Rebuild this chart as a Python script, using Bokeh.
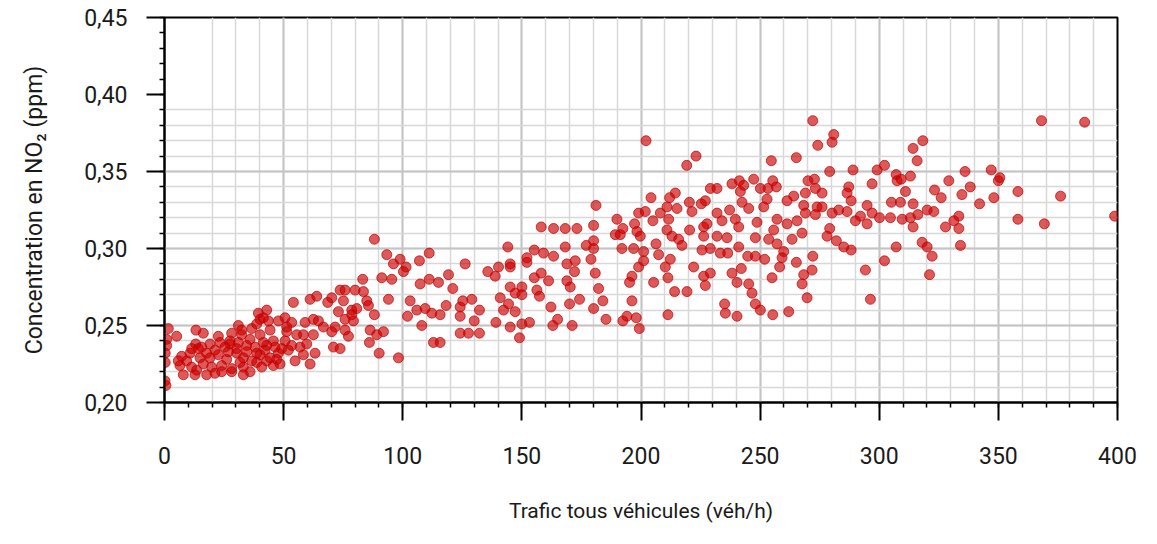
import math
from bokeh.plotting import figure
from bokeh.models import Range1d, SingleIntervalTicker, CustomJSTickFormatter, LinearAxis, FixedTicker
from bokeh.embed import file_html
from bokeh.resources import INLINE

# ---- data: traffic (veh/h) and NO2 concentration (ppm) ----
low_a_x = [54.1, 61.1, 63.9, 68.5, 42.9, 39.4, 40.1, 43.6, 50.6, 47.8, 62.5, 59.0, 64.6, 66.7, 31.0, 36.6, 1.6, 5.1,
           13.2, 16.3, 22.6, 28.2, 32.4, 35.9, 40.1, 44.3, 41.5, 45.7, 51.3, 50.6, 55.5, 58.3, 62.5, 0.9, 0.9]
low_a_y = [0.265, 0.267, 0.269, 0.265, 0.260, 0.258, 0.254, 0.253, 0.255, 0.253, 0.254, 0.252, 0.253, 0.249, 0.250,
           0.248, 0.248, 0.243, 0.247, 0.245, 0.243, 0.245, 0.244, 0.241, 0.244, 0.247, 0.239, 0.240, 0.246, 0.240,
           0.244, 0.244, 0.244, 0.241, 0.237]
low_b_x = [13.1, 15.6, 19.1, 21.2, 25.4, 27.5, 30.3, 34.5, 38.0, 42.2, 46.4, 49.2, 52.0]
low_b_y = [0.238, 0.236, 0.238, 0.234, 0.236, 0.238, 0.235, 0.237, 0.236, 0.234, 0.236, 0.235, 0.234]
low_c_x = [7.2, 10.7, 14.9, 17.7, 22.6, 26.1, 30.3, 33.1, 36.6, 40.1, 44.3, 47.8, 54.8, 58.3, 63.2, 61.1]
low_c_y = [0.230, 0.232, 0.229, 0.232, 0.231, 0.228, 0.232, 0.229, 0.227, 0.231, 0.229, 0.232, 0.227, 0.231, 0.232,
           0.225]
low_d_x = [6.5, 11.4, 16.3, 19.8, 24.0, 28.2, 33.1, 35.9, 31.7, 38.7, 45.7, 42.9, 7.9, 12.8, 17.7, 21.2, 28.2, 0.2,
           0.6, 0.3, 0.3]
low_d_y = [0.224, 0.223, 0.225, 0.223, 0.224, 0.222, 0.223, 0.220, 0.226, 0.226, 0.224, 0.227, 0.218, 0.218, 0.218,
           0.219, 0.220, 0.214, 0.211, 0.226, 0.232]
low_e_x = [14.2, 23.3, 26.8, 31.0, 34.5, 38.7, 42.9, 47.1, 9.3, 13.5, 24.0, 33.1, 40.8, 48.5, 53.4, 56.9, 59.7, 19.1,
           11.4, 5.8, 51.3, 53.4, 38.7, 41.5, 27.5, 32.4]
low_e_y = [0.235, 0.239, 0.233, 0.239, 0.233, 0.232, 0.237, 0.228, 0.227, 0.221, 0.220, 0.218, 0.223, 0.225, 0.237,
           0.236, 0.238, 0.229, 0.235, 0.227, 0.249, 0.252, 0.251, 0.255, 0.240, 0.247]

mid_a_x = [88.1, 93.3, 96.1, 98.9, 101.4, 100.3, 111.1, 107.0, 126.2, 135.7, 119.2, 121.0, 91.2, 95.4, 83.2, 107.3,
           111.1, 115.0, 94.0, 103.1, 118.2, 125.2, 129.0, 124.1, 132.2, 130.0, 124.1, 105.9, 109.4, 112.2, 115.7,
           102.0, 108.0, 124.1, 127.6, 132.2, 112.9, 115.7, 88.1, 86.3, 89.1, 91.9, 86.0, 90.1, 98.2]
mid_a_y = [0.306, 0.296, 0.290, 0.293, 0.288, 0.285, 0.297, 0.292, 0.290, 0.285, 0.283, 0.274, 0.281, 0.280, 0.280,
           0.277, 0.280, 0.278, 0.267, 0.266, 0.263, 0.266, 0.267, 0.262, 0.260, 0.253, 0.256, 0.260, 0.261, 0.258,
           0.257, 0.256, 0.250, 0.245, 0.245, 0.245, 0.239, 0.239, 0.257, 0.247, 0.244, 0.246, 0.239, 0.232, 0.229]
mid_b_x = [73.7, 75.8, 80.0, 83.5, 70.2, 75.1, 84.9, 85.6, 73.0, 78.6, 80.7, 78.6, 75.8, 79.3, 71.6, 75.8, 77.2, 70.2,
           70.9, 73.7]
mid_b_y = [0.273, 0.273, 0.273, 0.272, 0.268, 0.266, 0.266, 0.263, 0.259, 0.260, 0.261, 0.257, 0.254, 0.253, 0.249,
           0.247, 0.243, 0.246, 0.236, 0.235]

c_a_x = [181.1, 189.9, 199.0, 201.8, 197.3, 189.2, 191.3, 192.4, 198.3, 199.7, 158.1, 163.3, 168.2, 173.1, 180.1,
         180.1, 177.0, 180.1, 192.0, 196.9, 201.1, 201.1, 199.0, 144.1, 155.2, 159.1, 163.3, 152.1, 152.1, 168.2,
         179.0, 172.4, 168.9, 172.1, 180.8, 145.1, 145.1, 140.2, 138.8, 158.1, 155.2, 161.2, 168.9, 170.3, 196.2, 195.2]
c_a_y = [0.328, 0.319, 0.323, 0.324, 0.316, 0.309, 0.309, 0.313, 0.311, 0.308, 0.314, 0.313, 0.313, 0.313, 0.315,
         0.305, 0.302, 0.300, 0.300, 0.300, 0.298, 0.292, 0.288, 0.301, 0.299, 0.297, 0.295, 0.294, 0.291, 0.301,
         0.293, 0.292, 0.290, 0.285, 0.284, 0.290, 0.288, 0.288, 0.282, 0.284, 0.281, 0.279, 0.279, 0.275, 0.282, 0.278]
c_b_x = [145.1, 150.0, 147.2, 150.0, 156.3, 157.4, 182.2, 140.9, 144.4, 142.3, 147.2, 162.2, 170.0, 174.2, 184.0,
         180.1, 196.2, 139.1, 145.1, 150.0, 153.2, 163.0, 165.0, 171.1, 185.3, 192.4, 194.1, 198.0, 199.3, 149.0]
c_b_y = [0.275, 0.275, 0.271, 0.270, 0.273, 0.269, 0.274, 0.268, 0.264, 0.260, 0.259, 0.262, 0.264, 0.267, 0.266,
         0.261, 0.266, 0.252, 0.249, 0.251, 0.252, 0.250, 0.254, 0.250, 0.254, 0.253, 0.256, 0.255, 0.248, 0.242]

d_a_x = [202.1, 223.1, 219.2, 254.7, 265.2, 255.3, 253.3, 256.8, 250.1, 247.3, 238.2, 241.3, 243.1, 241.7, 229.1,
         231.9, 270.1, 269.0, 264.1, 261.3, 268.3, 252.9, 251.5, 245.2, 242.4, 237.2, 231.9, 227.0, 225.3, 220.3,
         221.4, 214.4, 212.0, 204.2, 215.1, 210.9, 208.1, 205.0, 211.6, 227.7, 226.3, 234.0, 239.6, 241.0, 248.7,
         248.0, 257.1, 261.3, 265.5, 267.6]
d_a_y = [0.370, 0.360, 0.354, 0.357, 0.359, 0.344, 0.339, 0.340, 0.339, 0.345, 0.342, 0.344, 0.341, 0.337, 0.339,
         0.339, 0.344, 0.336, 0.334, 0.331, 0.328, 0.332, 0.327, 0.326, 0.330, 0.325, 0.323, 0.331, 0.329, 0.330,
         0.324, 0.336, 0.333, 0.333, 0.326, 0.327, 0.323, 0.318, 0.319, 0.316, 0.314, 0.318, 0.319, 0.314, 0.317,
         0.307, 0.319, 0.316, 0.318, 0.310]
d_b_x = [263.4, 255.7, 253.6, 257.1, 259.9, 259.2, 210.9, 213.0, 215.8, 217.2, 220.4, 226.3, 229.1, 225.6, 233.3,
         236.4, 231.9, 236.1, 241.0, 206.3, 207.4, 212.3, 210.2, 222.1, 244.8, 248.0, 251.9, 265.2, 242.1, 258.2,
         268.3, 255.0, 211.3, 226.3, 229.1, 238.2, 227.0, 240.3, 245.2, 205.3, 214.1, 219.3, 246.6, 248.0, 250.1,
         235.1, 235.4, 240.3, 255.3, 262.0, 269.7, 211.3]
d_b_y = [0.306, 0.312, 0.306, 0.303, 0.298, 0.294, 0.312, 0.308, 0.306, 0.302, 0.312, 0.308, 0.300, 0.299, 0.297,
         0.297, 0.308, 0.307, 0.301, 0.303, 0.296, 0.293, 0.288, 0.288, 0.295, 0.295, 0.293, 0.291, 0.287, 0.288,
         0.283, 0.281, 0.281, 0.282, 0.284, 0.284, 0.276, 0.278, 0.277, 0.278, 0.272, 0.272, 0.271, 0.264, 0.260,
         0.264, 0.258, 0.256, 0.257, 0.259, 0.268, 0.257]

e_a_x = [272.1, 280.9, 280.2, 274.2, 318.3, 314.2, 315.9, 279.2, 289.0, 299.1, 302.2, 307.1, 307.5, 309.2, 313.1,
         329.2, 323.2, 326.0, 272.8, 273.2, 276.0, 287.2, 286.5, 288.2, 297.0, 311.0, 305.1, 308.9, 314.2, 294.9]
e_a_y = [0.383, 0.374, 0.369, 0.367, 0.370, 0.365, 0.357, 0.350, 0.351, 0.351, 0.354, 0.348, 0.344, 0.345, 0.347,
         0.344, 0.338, 0.333, 0.345, 0.339, 0.336, 0.340, 0.336, 0.331, 0.342, 0.337, 0.330, 0.330, 0.329, 0.328]
e_b_x = [273.9, 276.0, 269.0, 273.2, 280.2, 283.0, 286.5, 292.1, 290.0, 297.0, 300.1, 294.9, 304.7, 309.6, 313.1,
         316.2, 314.2, 320.1, 322.9, 333.4, 331.3, 327.8, 333.4, 279.2, 278.1, 282.0, 285.1, 288.2, 307.1, 318.0,
         320.1, 322.2, 334.1, 272.1, 302.2, 294.2, 271.8, 267.6, 321.1, 296.3]
e_b_y = [0.327, 0.327, 0.323, 0.322, 0.323, 0.325, 0.324, 0.321, 0.318, 0.323, 0.320, 0.316, 0.320, 0.319, 0.320,
         0.322, 0.314, 0.325, 0.324, 0.321, 0.318, 0.314, 0.313, 0.313, 0.308, 0.305, 0.301, 0.299, 0.301, 0.304,
         0.301, 0.295, 0.302, 0.295, 0.292, 0.286, 0.286, 0.277, 0.283, 0.267]

f_x = [368.1, 386.2, 336.0, 347.0, 350.6, 350.0, 338.2, 334.7, 348.1, 358.2, 376.1, 342.1, 358.2, 369.3, 398.8]
f_y = [0.383, 0.382, 0.350, 0.351, 0.346, 0.344, 0.340, 0.335, 0.333, 0.337, 0.334, 0.329, 0.319, 0.316, 0.321]

traffic = (low_a_x + low_b_x + low_c_x + low_d_x + low_e_x + mid_a_x + mid_b_x + c_a_x + c_b_x
           + d_a_x + d_b_x + e_a_x + e_b_x + f_x)
no2 = (low_a_y + low_b_y + low_c_y + low_d_y + low_e_y + mid_a_y + mid_b_y + c_a_y + c_b_y
       + d_a_y + d_b_y + e_a_y + e_b_y + f_y)

x_label = "Trafic tous véhicules (véh/h)"
y_label = "Concentration en NO₂ (ppm)"

FONT = "Roboto"

p = figure(width=1150, height=540, x_range=Range1d(0, 400), y_range=Range1d(0.20, 0.45),
           output_backend="svg", toolbar_location=None,
           min_border_left=164, min_border_right=33, min_border_top=17, min_border_bottom=138)
p.background_fill_color = "white"
p.border_fill_color = "white"
p.outline_line_color = "black"
p.outline_line_width = 2

xt = SingleIntervalTicker(interval=50, num_minor_ticks=5)
yt = SingleIntervalTicker(interval=0.05, num_minor_ticks=5)
p.xaxis.ticker = xt
p.yaxis.ticker = yt
p.xgrid.ticker = xt
p.ygrid.ticker = yt

for g in (p.xgrid, p.ygrid):
    g.grid_line_color = "#c4c4c4"
    g.grid_line_width = 2
    g.minor_grid_line_color = "#d8d8d8"
    g.minor_grid_line_width = 1.5

for ax in (p.xaxis, p.yaxis):
    ax.axis_line_color = "black"
    ax.axis_line_width = 2
    ax.major_tick_line_color = "black"
    ax.major_tick_line_width = 2
    ax.major_tick_out = 18
    ax.major_tick_in = 0
    ax.minor_tick_line_color = "black"
    ax.minor_tick_line_width = 1.5
    ax.minor_tick_out = 5
    ax.minor_tick_in = 0
    ax.major_label_text_font = FONT
    ax.major_label_text_font_size = "23px"
    ax.major_label_text_color = "#1a1a1a"

p.xaxis.major_label_standoff = 26
p.yaxis.major_label_standoff = 19
p.yaxis.formatter = CustomJSTickFormatter(code="return tick.toFixed(2).replace('.', ',');")
p.xaxis.formatter = CustomJSTickFormatter(code="return Math.round(tick).toString();")


def label_axis(text, bounds, standoff, size):
    return LinearAxis(axis_label=text, bounds=bounds, ticker=FixedTicker(ticks=[], minor_ticks=[]),
                      axis_line_color=None, major_tick_line_color=None, minor_tick_line_color=None,
                      major_label_text_font_size="0px", axis_label_standoff=standoff,
                      axis_label_text_font=FONT, axis_label_text_font_size=size,
                      axis_label_text_font_style="normal", axis_label_text_color="#1a1a1a")


p.add_layout(label_axis(x_label, (18.8, 400), 32, "21px"), "below")
p.add_layout(label_axis(y_label, (0.20, 0.397), 34, "23px"), "left")

p.scatter(traffic, no2, size=10, marker="circle",
          fill_color="#cc0000", fill_alpha=0.65, line_color="#c00000", line_alpha=0.7, line_width=1)

open("out.html", "w").write(file_html(p, INLINE))
